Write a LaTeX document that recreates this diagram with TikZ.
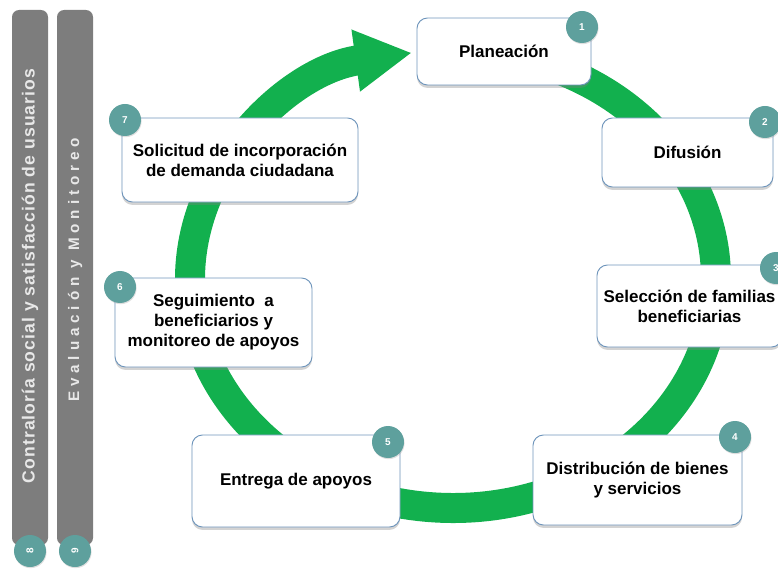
\documentclass[tikz,border=0pt]{standalone}
\usepackage{fontspec}
\setmainfont{Liberation Sans}
\usetikzlibrary{arrows.meta,shadows}
\definecolor{ringgreen}{RGB}{18,176,78}
\definecolor{badgeteal}{RGB}{94,160,157}
\definecolor{boxline}{RGB}{112,150,188}
\definecolor{bargray}{RGB}{125,125,125}
\definecolor{bartext}{RGB}{232,232,232}
\tikzset{
  stagebox/.style={draw=boxline, line width=0.8pt, fill=white, rounded corners=9pt,
    drop shadow={shadow xshift=0pt, shadow yshift=-2.5pt, opacity=0.35},
    align=center, inner sep=0pt, font=\bfseries\fontsize{14.5}{17}\selectfont},
  badge/.style={circle, fill=badgeteal, text=white, inner sep=0pt, minimum size=0.96cm,
    drop shadow={shadow xshift=0.5pt, shadow yshift=-1pt, opacity=0.25},
    font=\bfseries\fontsize{8.5}{9}\selectfont},
  sidebar/.style={fill=bargray, rounded corners=6pt},
  bartitle/.style={rotate=90, text=bartext, inner sep=0pt}
}
\begin{document}
\begin{tikzpicture}[x=0.03cm, y=-0.03cm]
    \useasboundingbox (0,0) rectangle (778,569);
    % side bars
    \fill[sidebar] (12,10) rectangle (48,545);
    \fill[sidebar] (57,10) rectangle (93,545);
    \node[bartitle, font=\bfseries\fontsize{15}{16}\selectfont\addfontfeature{LetterSpace=6}] (ctrl) at (30,276) {Contraloría social y satisfacción de usuarios};
    \node[bartitle, font=\bfseries\fontsize{13}{14}\selectfont\addfontfeature{LetterSpace=32}] (eval) at (75,270) {Evaluación y Monitoreo};
    \node[badge, rotate=90] (b8) at (30,551) {8};
    \node[badge, rotate=90] (b9) at (75,551) {9};
    % ring
    \draw[ringgreen, line width=0.9cm, -{Triangle[length=1.7cm, width=1.75cm]}]
        ([shift={(453,279)}]275:263 and 229) arc[start angle=275, end angle=621, x radius=263, y radius=229];
    % stages
    \node[stagebox, minimum width=5.22cm, minimum height=2.01cm] (plan) at (504,51.5) {Planeación};
    \node[stagebox, minimum width=5.13cm, minimum height=2.07cm] (difu) at (687.5,152.5) {Difusión};
    \node[stagebox, minimum width=5.55cm, minimum height=2.46cm] (sele) at (689.5,306) {Selección de familias\\beneficiarias};
    \node[stagebox, minimum width=6.27cm, minimum height=2.70cm] (dist) at (637.5,480) {Distribución de bienes\\y servicios};
    \node[stagebox, minimum width=6.24cm, minimum height=2.76cm] (entr) at (296,481) {Entrega de apoyos};
    \node[stagebox, minimum width=5.91cm, minimum height=2.67cm] (segu) at (213.5,322.5) {Seguimiento\ \ a\\beneficiarios y\\monitoreo de apoyos};
    \node[stagebox, minimum width=7.08cm, minimum height=2.52cm] (soli) at (240,160) {Solicitud de incorporación\\de demanda ciudadana};
    % numbers
    \node[badge] (b1) at (582,27) {1};
    \node[badge] (b2) at (765,122) {2};
    \node[badge] (b3) at (776,268) {3};
    \node[badge] (b4) at (735,437) {4};
    \node[badge] (b5) at (388,442) {5};
    \node[badge] (b6) at (120,287) {6};
    \node[badge] (b7) at (125,120) {7};
\end{tikzpicture}
\end{document}
